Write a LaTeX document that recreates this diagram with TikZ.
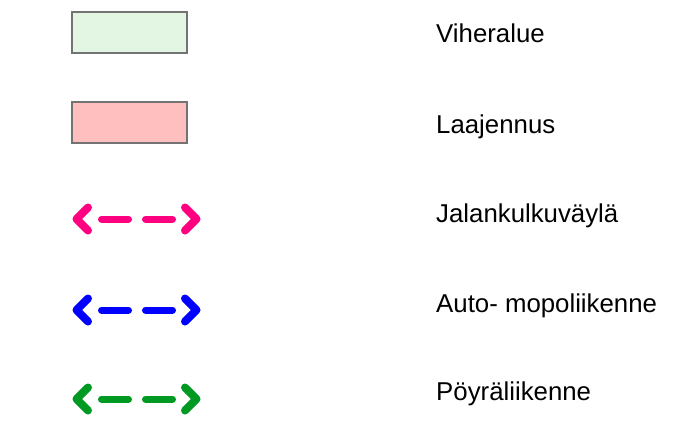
\documentclass[tikz,border=0pt]{standalone}
\usepackage{fontspec}
\setmainfont{Liberation Sans}
\begin{document}
\begin{tikzpicture}[x=1pt,y=-1pt,
  legbox/.style={draw=black!55,line width=1.2pt,minimum width=115pt,minimum height=41pt,inner sep=0pt},
  legtext/.style={anchor=base west,inner sep=0pt,font=\fontsize{25.8}{30}\selectfont},
  dashline/.style={line width=7pt,line cap=round,dash pattern=on 27pt off 17pt},
  chevron/.style={line width=8pt,line cap=round,line join=round},
  ]
  \definecolor{greenfill}{HTML}{E3F5E3}
  \definecolor{redfill}{HTML}{FFBFBF}
  \definecolor{walk}{HTML}{FF0080}
  \definecolor{car}{HTML}{0000FF}
  \definecolor{bike}{HTML}{009922}
  \useasboundingbox (0,0) rectangle (692,428);

  % filled area symbols
  \node[legbox,fill=greenfill] (green) at (129.5,32.5) {};
  \node[legbox,fill=redfill] (red) at (129.5,122.5) {};

  % dashed two-way route symbols
  \foreach \yy/\col/\nm in {219/walk/w,310/car/c,399/bike/b}{
    \coordinate (\nm L) at (101.5,\yy);
    \coordinate (\nm R) at (172.5,\yy);
    \draw[dashline,\col] (\nm L) -- (\nm R);
    \draw[chevron,\col] (88,\yy-11.5) -- (76.5,\yy) -- (88,\yy+11.5);
    \draw[chevron,\col] (185,\yy-11.5) -- (196.5,\yy) -- (185,\yy+11.5);
  }

  % labels
  \node[legtext] (t1) at (436,43) {Viheralue};
  \node[legtext] (t2) at (436,133) {Laajennus};
  \node[legtext] (t3) at (436,222) {Jalankulkuväylä};
  \node[legtext] (t4) at (436,312) {Auto- mopoliikenne};
  \node[legtext] (t5) at (436,400) {Pöyräliikenne};
\end{tikzpicture}
\end{document}
